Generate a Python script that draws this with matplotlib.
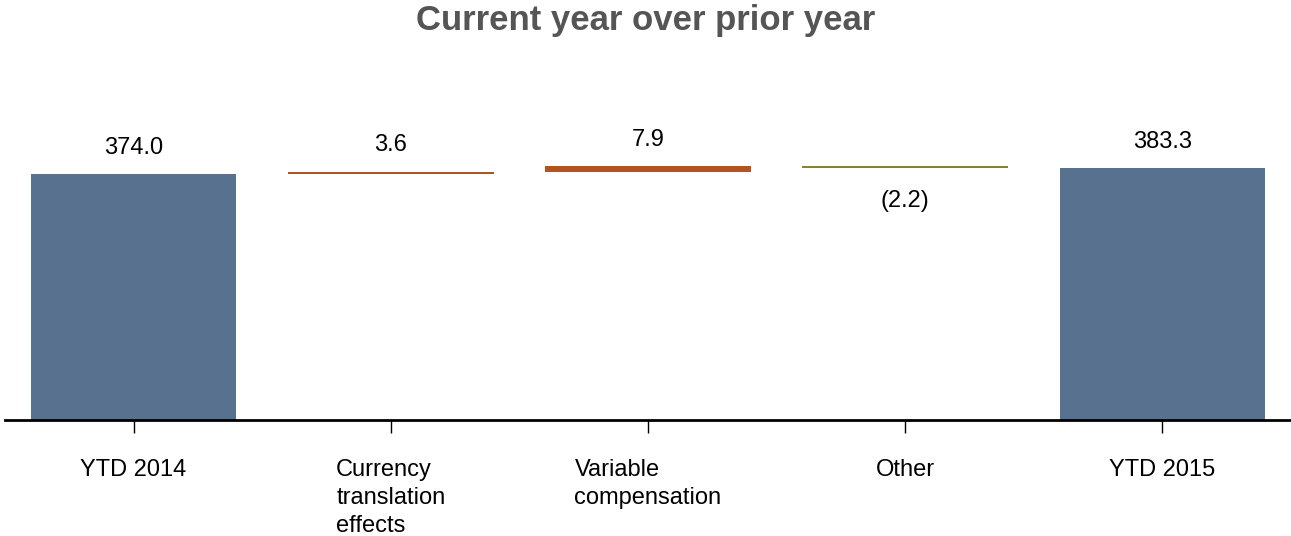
import numpy as np
import matplotlib
matplotlib.use('Agg')
from matplotlib import pyplot as plt

plt.rcParams['font.family'] = ['Liberation Sans', 'DejaVu Sans']

categories = ['YTD 2014', 'Currency\ntranslation\neffects', 'Variable\ncompensation', 'Other', 'YTD 2015']
values = [374.0, 3.6, 7.9, -2.2, 383.3]
value_labels = ['374.0', '3.6', '7.9', '(2.2)', '383.3']
is_total = [True, False, False, False, True]

total_color = '#58718F'
up_color = '#B3541E'
down_color = '#8C7F3A'

fig = plt.figure(figsize=(12.91, 5.36), dpi=100)
ax_h = 0.68
ax = fig.add_axes([5 / 1291, 116 / 536, 1 - 5 / 1291, ax_h])

x = np.arange(len(categories))
running = 0.0
for i, (v, total) in enumerate(zip(values, is_total)):
    if total:
        bottom, height, color = 0.0, v, total_color
        running = v
    else:
        bottom, height = running, v
        color = up_color if v >= 0 else down_color
        running += v
    ax.bar(x[i], height, bottom=bottom, width=0.8, color=color, linewidth=0)
    top = max(bottom, bottom + height)
    low = min(bottom, bottom + height)
    if v >= 0:
        ax.annotate(value_labels[i], (x[i], top), xytext=(0, 19), textcoords='offset points',
                    ha='center', va='center', fontsize=17, color='black')
    else:
        ax.annotate(value_labels[i], (x[i], low), xytext=(0, -24), textcoords='offset points',
                    ha='center', va='center', fontsize=17, color='black')

# about 0.658 px per unit, zero baseline
ax.set_ylim(0, ax_h * 536 / 0.6577)
ax.set_xlim(-0.5, len(categories) - 0.5)

ax.set_xticks(x)
ax.set_xticklabels(categories, fontsize=17, multialignment='left', va='top', linespacing=1.35)
ax.tick_params(axis='x', length=9, width=1, direction='out', pad=19, color='black')
ax.set_yticks([])

for side in ['top', 'right', 'left']:
    ax.spines[side].set_visible(False)
ax.spines['bottom'].set_linewidth(2)
ax.spines['bottom'].set_color('black')

fig.text(0.5, 0.962, 'Current year over prior year', ha='center', va='center',
         fontsize=25, fontweight='bold', color='#555555')

fig.savefig('out.png', dpi=100)
